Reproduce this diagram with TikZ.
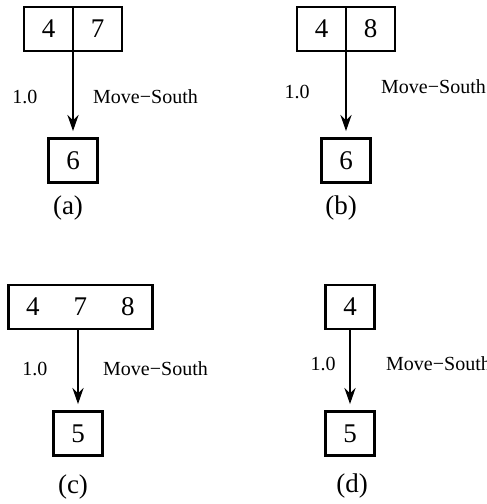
\documentclass[tikz,border=0pt]{standalone}
\usepackage{fontspec}
\setmainfont{Liberation Serif}
\usetikzlibrary{arrows.meta,positioning}
\newcommand{\numfont}{\fontsize{27}{32}\selectfont}
\newcommand{\lblfont}{\fontsize{20}{24}\selectfont}
\newcommand{\capfont}{\fontsize{27}{32}\selectfont}
\tikzset{
  cell/.style={draw, line width=2.8pt, minimum width=49pt, minimum height=44pt,
    inner sep=0pt, font=\numfont},
  wide/.style={cell, minimum width=144pt},
  move/.style={-{Stealth[length=16pt,width=11pt]}, line width=2.8pt, shorten >=6pt},
  annot/.style={font=\lblfont, inner sep=0pt},
  caption/.style={font=\capfont, inner sep=0pt}
}
\begin{document}
\begin{tikzpicture}[x=1pt, y=-1pt]
  \useasboundingbox (0,0) rectangle (487,504);

  % (a)
  \node[cell] (a4) at (48.5,29) {4};
  \node[cell] (a7) at (97.5,29) {7};
  \node[cell] (a6) at (73,160.5) {6};
  \draw[move] (a6.north |- a4.south) -- (a6.north);
  \node[annot] (aw) at (25,97) {1.0};
  \node[annot, anchor=west] (al) at (93,97) {Move−South};
  \node[caption] (acap) at (68,208) {(a)};

  % (b)
  \node[cell] (b4) at (321.5,29) {4};
  \node[cell] (b8) at (370.5,29) {8};
  \node[cell] (b6) at (346,160.5) {6};
  \draw[move] (b6.north |- b4.south) -- (b6.north);
  \node[annot] (bw) at (297,92) {1.0};
  \node[annot, anchor=west] (bl) at (381,87) {Move−South};
  \node[caption] (bcap) at (341,208) {(b)};

  % (c)
  \node[wide] (c478) at (80.5,307) {4\hspace{34pt}7\hspace{34pt}8};
  \node[cell] (c5) at (78,433.5) {5};
  \draw[move] (c5.north |- c478.south) -- (c5.north);
  \node[annot] (cw) at (35,369) {1.0};
  \node[annot, anchor=west] (cl) at (103,369) {Move−South};
  \node[caption] (ccap) at (73,487) {(c)};

  % (d)
  \node[cell] (d4) at (350,307) {4};
  \node[cell] (d5) at (350,433.5) {5};
  \draw[move] (d4.south) -- (d5.north);
  \node[annot] (dw) at (323,364) {1.0};
  \node[annot, anchor=west] (dl) at (386,364) {Move−South};
  \node[caption] (dcap) at (352,486) {(d)};
\end{tikzpicture}
\end{document}
